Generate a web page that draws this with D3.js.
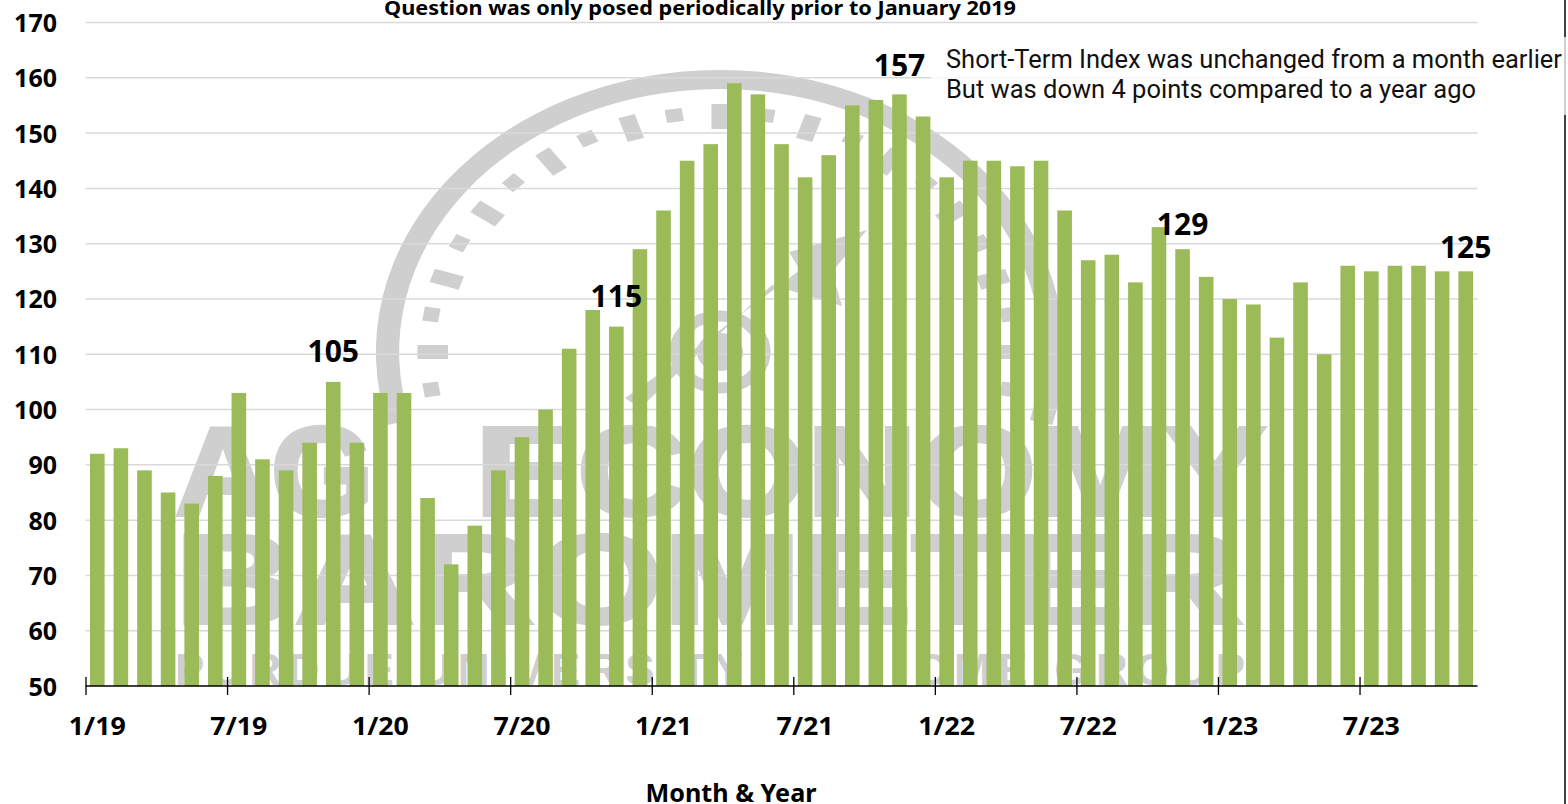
<!DOCTYPE html>
<html><head><meta charset="utf-8">
<script src="https://cdn.jsdelivr.net/npm/d3@7/dist/d3.min.js"></script>
<style>html,body{margin:0;padding:0;background:#fff;overflow:hidden}svg{display:block}</style>
</head><body><svg id="c" width="1568" height="804"></svg>
<script>
const values=[92,93,89,85,83,88,103,91,89,94,105,94,103,103,84,72,79,89,95,100,111,118,115,129,136,145,148,159,157,148,142,146,155,156,157,153,142,145,145,144,145,136,127,128,123,133,129,124,120,119,113,123,110,126,125,126,126,125,125];
const tickMonths=[0,6,12,18,24,30,36,42,48,54];
const tickLabels=["1/19","7/19","1/20","7/20","1/21","7/21","1/22","7/22","1/23","7/23"];
const yTicks=[50,60,70,80,90,100,110,120,130,140,150,160,170];
const calloutMonths=[10,22,34,46,58];
const calloutLift=[30,30,29,25,24];
const dialAngles=[-99,-90,-81,-72,-63,-54,-45,-36,-27,-18,-9,0,9,18,27,36,45,54,63,72,81,90,99];
const title="Question was only posed periodically prior to January 2019";
const note=["Short-Term Index was unchanged from a month earlier","But was down 4 points compared to a year ago"];
const xTitle="Month & Year";

const svg=d3.select("#c");
const x=d3.scaleLinear().domain([0,values.length]).range([85.5,1477.5]);
const y=d3.scaleLinear().domain([50,170]).range([686,22.5]);
const bold="'Noto Sans', sans-serif", grey="#cfcfcf", black="#000";

// watermark
const wm=svg.append("g");
const dial=wm.append("g").attr("transform","translate(720,352) scale(1.22,1)");
dial.append("path").attr("fill",grey).attr("d",d3.arc()({innerRadius:263,outerRadius:282,startAngle:-105*Math.PI/180,endAngle:105*Math.PI/180}));
dial.selectAll("rect.d").data(dialAngles).join("rect").attr("class","d")
  .attr("fill",grey)
  .attr("x",-7).attr("width",14)
  .attr("y",d=>d%18===0?-248:-246)
  .attr("height",d=>d%18===0?25:13)
  .attr("transform",d=>`rotate(${d})`);
dial.append("circle").attr("r",36).attr("fill","none").attr("stroke",grey).attr("stroke-width",11);
dial.append("circle").attr("r",19).attr("fill",grey);
wm.append("path").attr("fill",grey).attr("d",d3.line()([[625,398],[640,408],[772,285],[842,306],[832,272],[867,230],[789,252],[800,270],[700,345]])+"Z");
const wmText=[["AG",175,374,515],["ECONOMY",475,1266,515],["BAROMETER",175,1243,623]];
wm.selectAll("text.big").data(wmText).join("text").attr("class","big")
  .attr("x",d=>d[1]).attr("y",d=>d[3]).attr("textLength",d=>d[2]-d[1]).attr("lengthAdjust","spacingAndGlyphs")
  .attr("font-family","Liberation Sans").attr("font-weight",700).attr("font-size",126)
  .attr("fill",grey).attr("stroke",grey).attr("stroke-width",4).text(d=>d[0]);
const wmSmall=[["PURDUE UNIVERSITY",175,743],["CME GROUP",915,1245]];
wm.selectAll("text.small").data(wmSmall).join("text").attr("class","small")
  .attr("x",d=>d[1]).attr("y",685).attr("textLength",d=>d[2]-d[1]).attr("lengthAdjust","spacing")
  .attr("font-family","Liberation Sans").attr("font-weight",700).attr("font-size",44).attr("fill",grey).text(d=>d[0]);

// grid
svg.append("g").selectAll("line").data(yTicks.slice(1)).join("line")
  .attr("x1",x(0)).attr("x2",x(values.length)).attr("y1",d=>y(d)).attr("y2",d=>y(d))
  .attr("stroke","#d9d9d9").attr("stroke-width",1.5);

// bars
const barW=14.6;
svg.append("g").selectAll("rect").data(values).join("rect")
  .attr("x",(d,i)=>x(i+.5)-barW/2).attr("width",barW)
  .attr("y",d=>y(d)).attr("height",d=>y(50)-y(d)).attr("fill","#9bbb59");

// x axis
const ax=svg.append("g").attr("transform",`translate(0,${y(50)})`)
  .call(d3.axisBottom(x).tickValues(tickMonths).tickSize(9).tickFormat(""));
ax.selectAll("path").attr("stroke",black).attr("stroke-width",1.6).attr("d",`M${x(0)},0H${x(values.length)}`);
ax.selectAll("line").attr("stroke",black).attr("stroke-width",1.3).attr("y1",-9);
svg.append("g").selectAll("text").data(tickMonths).join("text")
  .attr("x",d=>x(d+.5)).attr("y",735).attr("text-anchor","middle")
  .attr("textLength",57).attr("lengthAdjust","spacingAndGlyphs")
  .attr("font-family",bold).attr("font-weight",700).attr("font-size",25).attr("fill",black)
  .text((d,i)=>tickLabels[i]);

// y axis labels
const ay=svg.append("g").attr("transform","translate(57,0)").call(d3.axisLeft(y).tickValues(yTicks).tickSize(0).tickPadding(0));
ay.select("path").remove();
ay.selectAll("text").attr("font-family",bold).attr("font-weight",700).attr("font-size",25).attr("fill",black).attr("dy","0.36em");

// right frame edge
svg.append("line").attr("x1",1565).attr("x2",1565).attr("y1",0).attr("y2",804).attr("stroke","#111").attr("stroke-width",1.6);

// translucent note box and note
svg.append("rect").attr("x",931).attr("y",37).attr("width",637).attr("height",78).attr("fill","#fff").attr("opacity",.75);
svg.append("g").selectAll("text").data(note).join("text")
  .attr("x",946).attr("y",(d,i)=>68+i*29.5).attr("textLength",(d,i)=>i?530:616).attr("lengthAdjust","spacingAndGlyphs")
  .attr("font-family","Roboto, sans-serif").attr("font-size",25).attr("fill","#111").text(d=>d);

// callouts
svg.append("g").selectAll("text").data(calloutMonths).join("text")
  .attr("x",d=>x(d+.5)).attr("y",(d,i)=>y(values[d])-calloutLift[i]+10.5)
  .attr("text-anchor","middle").attr("font-family",bold).attr("font-weight",700).attr("font-size",30).attr("fill",black)
  .text(d=>values[d]);

// titles
svg.append("text").attr("x",700).attr("y",15).attr("text-anchor","middle").attr("textLength",632).attr("lengthAdjust","spacingAndGlyphs")
  .attr("font-family",bold).attr("font-weight",700).attr("font-size",19).attr("fill",black).text(title);
svg.append("text").attr("x",731).attr("y",802).attr("text-anchor","middle").attr("textLength",171).attr("lengthAdjust","spacingAndGlyphs")
  .attr("font-family",bold).attr("font-weight",700).attr("font-size",25).attr("fill",black).text(xTitle);
</script></body></html>
